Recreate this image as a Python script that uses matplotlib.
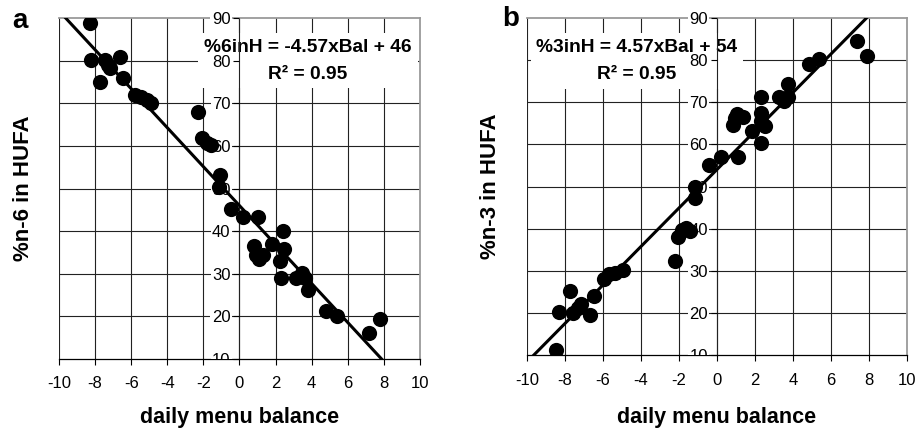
import matplotlib
matplotlib.use("Agg")
import matplotlib.pyplot as plt
from matplotlib.transforms import Bbox, TransformedBbox
import numpy as np

plt.rcParams['font.family'] = ['Liberation Sans', 'DejaVu Sans']
plt.rcParams['axes.unicode_minus'] = False

# panel a: %n-6 in HUFA vs daily menu balance
bal_a = [-8.3, -8.2, -7.45, -7.3, -7.15, -7.75, -6.6, -6.45,
         -5.8, -5.45, -5.1, -4.9, -2.3, -2.1, -1.8, -1.55,
         -1.1, -1.15, -0.45, 0.2, 1.05, 2.4, 0.8, 0.9, 1.1, 1.3,
         1.8, 2.45, 2.25, 2.3, 3.15, 3.45, 3.65, 3.8, 4.8, 5.4,
         7.2, 7.8]
n6_a = [88.8, 80.1, 80.1, 79.0, 78.2, 75.1, 80.9, 75.9,
        71.9, 71.4, 70.8, 70.0, 68.0, 61.8, 60.6, 60.3,
        53.2, 50.3, 45.3, 43.4, 43.4, 40.0, 36.5, 34.5, 33.5, 34.5,
        37.0, 35.9, 32.9, 29.1, 28.9, 30.3, 29.0, 26.3, 21.2, 20.0,
        16.1, 19.5]

# panel b: %n-3 in HUFA vs daily menu balance
bal_b = [7.4, 7.9, 4.85, 5.4, 3.75, 3.25, 3.55, 3.75,
         2.35, 2.35, 2.55, 2.35, 2.35, 1.85,
         0.85, 1.05, 1.4, 0.95, 1.1, 0.2, -0.4,
         -1.15, -1.15, -2.05, -1.85, -1.6, -1.4, -2.2,
         -5.95, -5.65, -5.35, -4.95, -6.45, -7.75,
         -8.3, -7.55, -7.15, -7.3, -6.7, -8.45]
n3_b = [84.5, 81.0, 79.0, 80.2, 74.3, 71.2, 70.2, 71.3,
        71.3, 67.4, 64.3, 65.5, 60.3, 63.1,
        64.7, 67.3, 66.6, 66.2, 57.1, 57.0, 55.2,
        50.0, 47.2, 38.1, 39.7, 40.1, 39.4, 32.2,
        28.0, 29.3, 29.4, 30.1, 24.1, 25.3,
        20.1, 19.9, 22.2, 21.2, 19.4, 11.1]

fit_a = (-4.57, 46)
fit_b = (4.57, 54)
eq_a = "%6inH = -4.57xBal + 46\nR\u00b2 = 0.95"
eq_b = "%3inH = 4.57xBal + 54\nR\u00b2 = 0.95"

xticks = list(range(-10, 11, 2))
yticks = list(range(10, 91, 10))

GRID = '#222222'
FRAME = '#9a9a9a'


def panel(ax, x, y, fit, eq, eq_pos, ylabel, ylab_x, xlab_y, xpad):
    ax.set_xlim(-10, 10)
    ax.set_ylim(10, 90)
    ax.set_axisbelow(False)   # tick labels sit above the equation box

    for v in xticks[:-1]:
        ax.axvline(v, color=GRID, lw=0.8, zorder=1)
    for v in yticks[1:-1]:
        ax.axhline(v, color=GRID, lw=0.8, zorder=1)

    ax.text(eq_pos[0], eq_pos[1], eq, ha='center', va='center',
            fontsize=13.8, fontweight='bold', linespacing=1.75, zorder=2,
            bbox=dict(boxstyle='square,pad=0.3', facecolor='white',
                      edgecolor='none'))

    xs = np.array([-10.0, 10.0])
    ax.plot(xs, fit[0] * xs + fit[1], color='black', lw=2.2, zorder=3,
            solid_capstyle='butt')
    ax.scatter(x, y, s=120, color='black', linewidths=0, zorder=4)

    ax.spines['left'].set_position(('data', 0))
    ax.spines['left'].set_color(GRID)
    ax.spines['left'].set_linewidth(0.8)
    ax.spines['bottom'].set_color('black')
    ax.spines['bottom'].set_linewidth(0.9)
    for s in ['top', 'right']:
        ax.spines[s].set_color(FRAME)
        ax.spines[s].set_linewidth(1.3)

    ax.set_xticks(xticks)
    ax.set_yticks(yticks)
    ax.tick_params(axis='x', direction='out', length=4, width=0.8,
                   labelsize=12, pad=xpad)
    ax.tick_params(axis='y', direction='out', length=4, width=0.8,
                   labelsize=12, pad=2.5)

    clip = TransformedBbox(Bbox([[-1.0, 0.0], [2.0, 1.3]]), ax.transAxes)
    for lbl in ax.get_yticklabels():
        lbl.set_bbox(dict(facecolor='white', edgecolor='none', pad=1))
        lbl.set_clip_box(clip)
        lbl.set_clip_on(True)

    ax.set_ylabel(ylabel, fontsize=16, fontweight='bold')
    ax.yaxis.label.set_va('center')
    ax.yaxis.set_label_coords(ylab_x, 0.5)
    ax.set_xlabel('daily menu balance', fontsize=15.5, fontweight='bold')
    ax.xaxis.label.set_va('center')
    ax.xaxis.set_label_coords(0.5, xlab_y)


def main():
    fig = plt.figure(figsize=(9.21, 4.29), dpi=100)
    ax_a = fig.add_axes([0.064, 0.163, 0.392, 0.795])
    ax_b = fig.add_axes([0.572, 0.1725, 0.4126, 0.7855])

    panel(ax_a, bal_a, n6_a, fit_a, eq_a, (3.8, 80.0), '%n-6 in HUFA',
          -0.097, -0.17, 8)
    panel(ax_b, bal_b, n3_b, fit_b, eq_b, (-4.2, 79.8), '%n-3 in HUFA',
          -0.095, -0.184, 9)

    fig.text(20 / 921, 1 - 21 / 429, 'a', ha='center', va='center',
             fontsize=20, fontweight='bold')
    fig.text(511 / 921, 1 - 19 / 429, 'b', ha='center', va='center',
             fontsize=20, fontweight='bold')

    fig.savefig('out.png', dpi=100)


main()
